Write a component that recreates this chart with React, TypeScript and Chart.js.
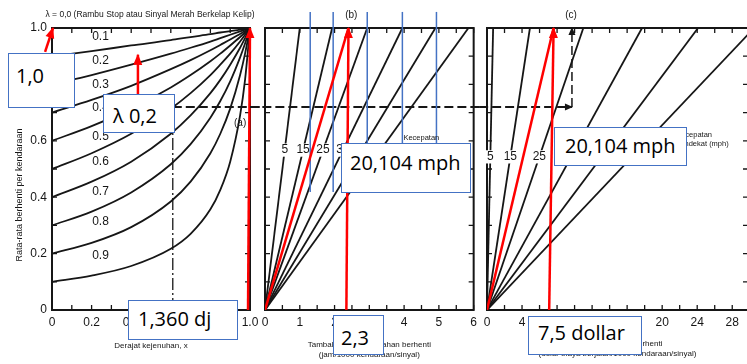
import React, { useEffect, useRef } from "react";
import { Chart, registerables } from "chart.js";

Chart.register(...registerables);

const FONT_FAMILY = "'Liberation Sans', Arial, Helvetica, sans-serif";
const INK = "#161616";
const RED = "#ff0000";
const BLUE = "#4472c4";

// ---------- Panel (a): stops per vehicle vs degree of saturation ----------
const satDegree = [0, 0.2, 0.4, 0.6, 0.7, 0.8, 0.85, 0.9, 0.95, 0.975, 1.0];
const stopsL01 = [0.9, 0.918, 0.938, 0.957, 0.968, 0.978, 0.984, 0.989, 0.994, 0.997, 1.0];
const stopsL02 = [0.8, 0.833, 0.87, 0.909, 0.93, 0.952, 0.964, 0.976, 0.988, 0.994, 1.0];
const stopsL03 = [0.7, 0.745, 0.795, 0.854, 0.886, 0.921, 0.94, 0.959, 0.979, 0.989, 1.0];
const stopsL04 = [0.6, 0.652, 0.714, 0.789, 0.833, 0.882, 0.909, 0.938, 0.968, 0.984, 1.0];
const stopsL05 = [0.5, 0.556, 0.625, 0.714, 0.769, 0.833, 0.87, 0.909, 0.952, 0.976, 1.0];
const stopsL06 = [0.4, 0.455, 0.526, 0.625, 0.69, 0.769, 0.816, 0.87, 0.93, 0.964, 1.0];
const stopsL07 = [0.3, 0.349, 0.417, 0.517, 0.588, 0.682, 0.741, 0.811, 0.896, 0.945, 1.0];
const stopsL08 = [0.2, 0.238, 0.294, 0.385, 0.455, 0.556, 0.625, 0.714, 0.833, 0.909, 1.0];
const stopsL09 = [0.1, 0.122, 0.156, 0.217, 0.27, 0.357, 0.426, 0.526, 0.69, 0.816, 1.0];
const lambdaLabels = ["0.1", "0.2", "0.3", "0.4", "0.5", "0.6", "0.7", "0.8", "0.9"];
const lambdaLabelY = [0.968, 0.883, 0.798, 0.716, 0.613, 0.525, 0.418, 0.312, 0.191];
const lambdaLabelX = 0.245;

// worked example (dashed path)
const exampleSaturation = 0.61;
const exampleStops = 0.72;
const exampleCost = 9.7;

// ---------- Panel (b): added stop delay, speed lines ----------
const speedLabels = ["5", "15", "25", "35", "45", "55"];
const delayAtOneStop = [1.0, 1.93, 2.94, 3.95, 4.9, 5.85];
const delayLabelLevel = 0.567;
const blueGuideX = [1.3, 1.96, 2.94, 3.95, 4.93];
const blueGuideTop = 1.057;
const blueGuideBottom = 0.418;

// ---------- Panel (c): added running cost, speed lines ----------
const costAtOneStop = [0.7, 4.9, 11.0, 17.7, 24.1, 30.5];
const costLabelLevel = 0.543;

// ---------- red annotation arrows ----------
const satMarkerX = [0.99, 1.0];
const calloutOneX = [-0.035, 0.005];
const calloutOneY = [0.915, 1.0];
const calloutLambdaX = [0.43, 0.434];
const calloutLambdaY = [0.762, 0.905];
const delayMarkerX = [2.34, 2.4];
const costMarkerX = [7.1, 7.6];

const fontStr = (size: number, weight = "normal") => `${weight} ${size}px ${FONT_FAMILY}`;
const fmtTick = (v: number) => (v === 0 ? "0" : Number(v).toFixed(1));

type TextItem = {
  text: string;
  x: number;
  y: number;
  size: number;
  align?: CanvasTextAlign;
  rotate?: number;
  bg?: boolean;
};

type DecorCfg = {
  xStep: number;
  yStep: number;
  tick: number;
  texts: TextItem[];
  lineLabels: TextItem[];
};

function drawText(ctx: CanvasRenderingContext2D, chart: any, t: TextItem) {
  const px = chart.scales.x.getPixelForValue(t.x);
  const py = chart.scales.y.getPixelForValue(t.y);
  ctx.save();
  ctx.font = fontStr(t.size);
  ctx.textAlign = t.align || "center";
  ctx.textBaseline = "middle";
  ctx.translate(px, py);
  if (t.rotate) ctx.rotate((t.rotate * Math.PI) / 180);
  if (t.bg) {
    const w = ctx.measureText(t.text).width;
    ctx.fillStyle = "#ffffff";
    ctx.fillRect(-w / 2 - 1, -t.size * 0.55, w + 2, t.size * 1.1);
  }
  ctx.fillStyle = INK;
  ctx.fillText(t.text, 0, 0);
  ctx.restore();
}

function makeDecor(cfg: DecorCfg) {
  return {
    id: "decor",
    beforeDatasetsDraw(chart: any) {
      const { ctx, chartArea: ca, scales } = chart;
      const xs = scales.x;
      const ys = scales.y;
      ctx.save();
      ctx.strokeStyle = INK;
      ctx.lineWidth = 2;
      ctx.strokeRect(ca.left, ca.top, ca.right - ca.left, ca.bottom - ca.top);
      ctx.lineWidth = 1.3;
      ctx.beginPath();
      const nX = Math.round((xs.max - xs.min) / cfg.xStep);
      for (let i = 1; i <= nX; i++) {
        const px = xs.getPixelForValue(xs.min + i * cfg.xStep);
        ctx.moveTo(px, ca.bottom);
        ctx.lineTo(px, ca.bottom - cfg.tick);
        ctx.moveTo(px, ca.top);
        ctx.lineTo(px, ca.top + cfg.tick);
      }
      const nY = Math.round((ys.max - ys.min) / cfg.yStep);
      for (let i = 1; i < nY; i++) {
        const py = ys.getPixelForValue(ys.min + i * cfg.yStep);
        ctx.moveTo(ca.left, py);
        ctx.lineTo(ca.left + cfg.tick, py);
        ctx.moveTo(ca.right, py);
        ctx.lineTo(ca.right - cfg.tick, py);
      }
      ctx.stroke();
      ctx.restore();
    },
    afterDatasetDraw(chart: any, args: any) {
      const ds = chart.data.datasets[args.index];
      if (!ds || !ds.labelsAfter) return;
      cfg.lineLabels.forEach((t) => drawText(chart.ctx, chart, t));
    },
    afterDatasetsDraw(chart: any) {
      const ctx = chart.ctx;
      chart.data.datasets.forEach((ds: any, i: number) => {
        if (!ds.arrowEnd) return;
        const pts = chart.getDatasetMeta(i).data;
        if (pts.length < 2) return;
        const a = pts[pts.length - 2];
        const b = pts[pts.length - 1];
        const ang = Math.atan2(b.y - a.y, b.x - a.x);
        const L = ds.arrowLen || 10;
        const W = ds.arrowHalf || 4.5;
        ctx.save();
        ctx.setLineDash([]);
        ctx.fillStyle = ds.borderColor;
        ctx.translate(b.x, b.y);
        ctx.rotate(ang);
        ctx.beginPath();
        ctx.moveTo(1, 0);
        ctx.lineTo(-L, W);
        ctx.lineTo(-L, -W);
        ctx.closePath();
        ctx.fill();
        ctx.restore();
      });
    },
    afterDraw(chart: any) {
      cfg.texts.forEach((t) => drawText(chart.ctx, chart, t));
    },
  };
}

function lineDs(data: { x: number; y: number }[], color: string, width: number, extra: any = {}) {
  return {
    data,
    borderColor: color,
    backgroundColor: color,
    borderWidth: width,
    pointRadius: 0,
    fill: false,
    tension: 0,
    ...extra,
  };
}

function xAxis(min: number, max: number, step: number, title: string | string[], titleBottomPad: number) {
  return {
    type: "linear",
    min,
    max,
    afterFit: (s: any) => {
      s.height = 54;
    },
    grid: { display: false, drawTicks: false },
    border: { display: false },
    ticks: {
      stepSize: step,
      includeBounds: false,
      autoSkip: false,
      maxRotation: 0,
      padding: 5,
      color: INK,
      font: { family: FONT_FAMILY, size: 12 },
      callback: (v: any) => (step < 1 ? fmtTick(v) : String(v)),
    },
    title: {
      display: true,
      text: title,
      color: INK,
      font: { family: FONT_FAMILY, size: 8, lineHeight: 1.25 },
      padding: { top: 0, bottom: titleBottomPad },
    },
  };
}

function yAxisShown() {
  return {
    type: "linear",
    min: 0,
    max: 1,
    afterFit: (s: any) => {
      s.width = 52;
    },
    grid: { display: false, drawTicks: false },
    border: { display: false },
    ticks: {
      stepSize: 0.2,
      padding: 5,
      color: INK,
      font: { family: FONT_FAMILY, size: 12 },
      callback: (v: any) => fmtTick(v),
    },
  };
}

function yAxisHidden() {
  return { type: "linear", min: 0, max: 1, display: false };
}

function baseOptions(padding: any, scales: any) {
  return {
    responsive: false,
    animation: false,
    events: [],
    layout: { padding },
    plugins: { legend: { display: false }, tooltip: { enabled: false } },
    scales,
  };
}

function buildA(): any {
  const curves = [stopsL01, stopsL02, stopsL03, stopsL04, stopsL05, stopsL06, stopsL07, stopsL08, stopsL09];
  const datasets: any[] = [];
  datasets.push(
    lineDs([{ x: satMarkerX[0], y: 0 }, { x: satMarkerX[1], y: 1 }], RED, 2.5, { order: 0, arrowEnd: true, clip: false })
  );
  datasets.push(
    lineDs(
      [{ x: calloutOneX[0], y: calloutOneY[0] }, { x: calloutOneX[1], y: calloutOneY[1] }],
      RED,
      2.5,
      { order: 0, arrowEnd: true, clip: false }
    )
  );
  datasets.push(
    lineDs(
      [{ x: calloutLambdaX[0], y: calloutLambdaY[0] }, { x: calloutLambdaX[1], y: calloutLambdaY[1] }],
      RED,
      2.5,
      { order: 0, arrowEnd: true, clip: false }
    )
  );
  datasets.push(
    lineDs([{ x: exampleSaturation, y: 0 }, { x: exampleSaturation, y: exampleStops }], INK, 1.3, {
      order: 3,
      borderDash: [12, 3, 2, 3],
    })
  );
  datasets.push(
    lineDs([{ x: exampleSaturation, y: exampleStops }, { x: 1.08, y: exampleStops }], INK, 2, {
      order: 3,
      borderDash: [9, 4],
      clip: false,
    })
  );
  curves.forEach((c) => {
    datasets.push(
      lineDs(
        satDegree.map((x, j) => ({ x, y: c[j] })),
        INK,
        1.8,
        { order: 5, cubicInterpolationMode: "monotone" }
      )
    );
  });
  const texts: TextItem[] = [
    { text: "λ = 0,0 (Rambu Stop atau Sinyal Merah Berkelap Kelip)", x: 0.495, y: 1.046, size: 8.5 },
    { text: "(a)", x: 0.95, y: 0.663, size: 10 },
    { text: "Rata-rata berhenti per kendaraan", x: -0.162, y: 0.408, size: 9, rotate: -90 },
    ...lambdaLabels.map((t, i) => ({ text: t, x: lambdaLabelX, y: lambdaLabelY[i], size: 12 })),
  ];
  return {
    type: "line",
    data: { datasets },
    options: baseOptions(
      { top: 28, right: 15, left: 0, bottom: 0 },
      { x: xAxis(0, 1, 0.2, "Derajat kejenuhan, x", 13), y: yAxisShown() }
    ),
    plugins: [makeDecor({ xStep: 0.1, yStep: 0.1, tick: 5, texts, lineLabels: [] })],
  };
}

function buildB(): any {
  const datasets: any[] = [];
  datasets.push(lineDs([{ x: 0, y: 0 }, { x: delayMarkerX[1], y: 1 }], RED, 2.5, { order: 0 }));
  datasets.push(
    lineDs([{ x: delayMarkerX[0], y: 0 }, { x: delayMarkerX[1], y: 1 }], RED, 2.5, { order: 0, arrowEnd: true })
  );
  blueGuideX.forEach((gx) => {
    datasets.push(
      lineDs([{ x: gx, y: blueGuideBottom }, { x: gx, y: blueGuideTop }], BLUE, 1.5, { order: 2, clip: false })
    );
  });
  datasets.push(
    lineDs([{ x: -0.45, y: exampleStops }, { x: 6.4, y: exampleStops }], INK, 2, {
      order: 3,
      borderDash: [9, 4],
      clip: false,
    })
  );
  delayAtOneStop.forEach((X, i) => {
    datasets.push(lineDs([{ x: 0, y: 0 }, { x: X, y: 1 }], INK, 1.8, { order: 5, labelsAfter: i === 0 }));
  });
  const lineLabels: TextItem[] = speedLabels.map((t, i) => ({
    text: t,
    x: delayAtOneStop[i] * delayLabelLevel,
    y: delayLabelLevel,
    size: 12,
    bg: true,
  }));
  const texts: TextItem[] = [
    { text: "(b)", x: 2.48, y: 1.046, size: 10 },
    { text: "Kecepatan", x: 3.98, y: 0.61, size: 7.5, align: "left" },
    { text: "pendekat (mph)", x: 3.98, y: 0.578, size: 7.5, align: "left" },
  ];
  return {
    type: "line",
    data: { datasets },
    options: baseOptions(
      { top: 28, right: 7, left: 15, bottom: 0 },
      {
        x: xAxis(0, 6, 1, ["Tambahan waktu tertahan berhenti", "(jam/1000 kendaraan/sinyal)"], 4),
        y: yAxisHidden(),
      }
    ),
    plugins: [makeDecor({ xStep: 0.5, yStep: 0.1, tick: 5, texts, lineLabels })],
  };
}

function buildC(): any {
  const datasets: any[] = [];
  datasets.push(lineDs([{ x: 0, y: 0 }, { x: costMarkerX[1], y: 1 }], RED, 2.5, { order: 0 }));
  datasets.push(
    lineDs([{ x: costMarkerX[0], y: 0 }, { x: costMarkerX[1], y: 1 }], RED, 2.5, { order: 0, arrowEnd: true })
  );
  datasets.push(
    lineDs([{ x: -0.9, y: exampleStops }, { x: exampleCost, y: exampleStops }], INK, 2, {
      order: 3,
      borderDash: [9, 4],
      clip: false,
      arrowEnd: true,
      arrowLen: 7,
      arrowHalf: 3.5,
    })
  );
  datasets.push(
    lineDs([{ x: exampleCost, y: exampleStops }, { x: exampleCost, y: 1 }], INK, 1.5, {
      order: 3,
      borderDash: [9, 4],
      arrowEnd: true,
      arrowLen: 7,
      arrowHalf: 3.5,
    })
  );
  costAtOneStop.forEach((X, i) => {
    datasets.push(lineDs([{ x: 0, y: 0 }, { x: X, y: 1 }], INK, 1.8, { order: 5, labelsAfter: i === 0 }));
  });
  const lineLabels: TextItem[] = speedLabels.map((t, i) => ({
    text: t,
    x: costAtOneStop[i] * costLabelLevel,
    y: costLabelLevel,
    size: 12,
    bg: true,
  }));
  const texts: TextItem[] = [
    { text: "(c)", x: 9.6, y: 1.046, size: 10 },
    { text: "Kecepatan", x: 21.6, y: 0.62, size: 7.5, align: "left" },
    { text: "pendekat (mph)", x: 21.6, y: 0.589, size: 7.5, align: "left" },
  ];
  return {
    type: "line",
    data: { datasets },
    options: baseOptions(
      { top: 28, right: 2, left: 10, bottom: 0 },
      {
        x: xAxis(0, 29.8, 4, ["Tambahan biaya berhenti", "(dolar biaya berjalan/1000 kendaraan/sinyal)"], 5),
        y: yAxisHidden(),
      }
    ),
    plugins: [makeDecor({ xStep: 2, yStep: 0.1, tick: 5, texts, lineLabels })],
  };
}

function ChartCanvas({ left, width, build }: { left: number; width: number; build: () => any }) {
  const ref = useRef<HTMLCanvasElement>(null);
  useEffect(() => {
    const chart = new Chart(ref.current as HTMLCanvasElement, build());
    return () => chart.destroy();
  }, []);
  return (
    <canvas
      ref={ref}
      width={width}
      height={364}
      style={{ position: "absolute", left, top: 0, width, height: 364 }}
    />
  );
}

const callouts = [
  { text: "1,0", left: 8, top: 53, w: 67, h: 55, pl: 7, pt: 12 },
  { text: "λ 0,2", left: 103, top: 94, w: 72, h: 39, pl: 9, pt: 11 },
  { text: "1,360 dj", left: 128, top: 300, w: 110, h: 40, pl: 9, pt: 8 },
  { text: "20,104 mph", left: 341, top: 143, w: 130, h: 50, pl: 8, pt: 9 },
  { text: "20,104 mph", left: 554, top: 127, w: 133, h: 39, pl: 10, pt: 8 },
  { text: "2,3", left: 333, top: 315, w: 51, h: 40, pl: 7, pt: 12 },
  { text: "7,5 dollar", left: 528, top: 316, w: 114, h: 39, pl: 9, pt: 6 },
];

export default function App() {
  return (
    <div
      style={{
        position: "fixed",
        left: 0,
        top: 0,
        width: 747,
        height: 364,
        background: "#ffffff",
        overflow: "hidden",
      }}
    >
      <ChartCanvas left={0} width={265} build={buildA} />
      <ChartCanvas left={250} width={232} build={buildB} />
      <ChartCanvas left={477} width={273} build={buildC} />
      {callouts.map((c, i) => (
        <div
          key={i}
          style={{
            position: "absolute",
            left: c.left,
            top: c.top,
            width: c.w,
            height: c.h,
            boxSizing: "border-box",
            border: `1.5px solid ${BLUE}`,
            background: "#ffffff",
            color: "#000000",
            fontFamily: "'Open Sans', 'Noto Sans', sans-serif",
            fontSize: 20,
            lineHeight: 1,
            paddingLeft: c.pl,
            paddingTop: c.pt,
            whiteSpace: "nowrap",
          }}
        >
          {c.text}
        </div>
      ))}
    </div>
  );
}
